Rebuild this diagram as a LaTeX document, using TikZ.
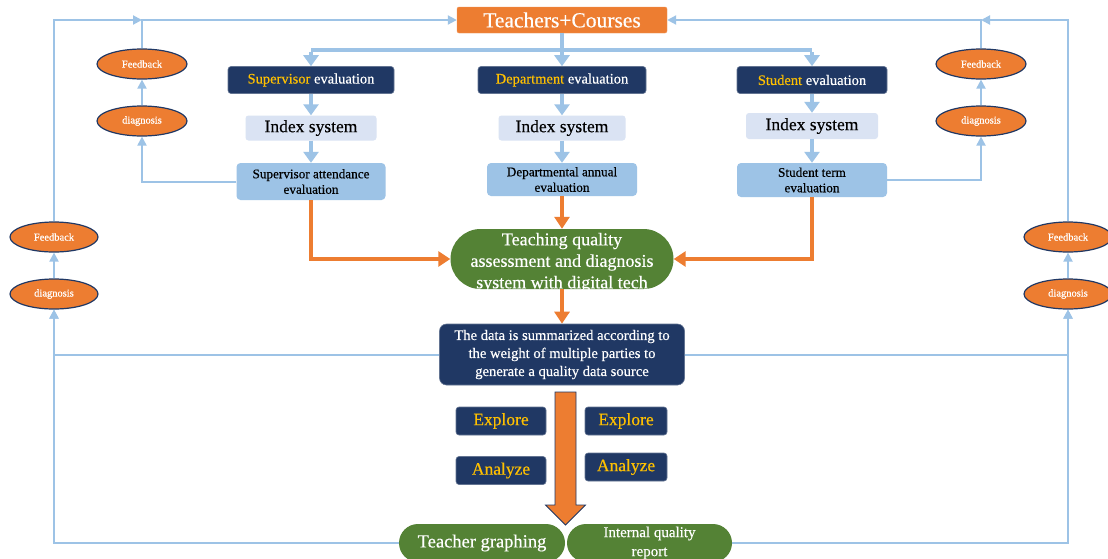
\documentclass[tikz,border=0pt]{standalone}
\usepackage{fontspec}
\setmainfont{Liberation Serif}[FakeBold=0.35]
\usetikzlibrary{arrows.meta,shapes.geometric}
\definecolor{orng}{HTML}{ED7D31}
\definecolor{navy}{HTML}{203864}
\definecolor{gold}{HTML}{FFC000}
\definecolor{lblue}{HTML}{9DC3E6}
\definecolor{lav}{HTML}{DAE3F3}
\definecolor{grn}{HTML}{548235}
\tikzset{
  fs/.style={font=\fontsize{#1}{\dimexpr#1pt*6/5\relax}\selectfont},
  orangebox/.style={rectangle, fill=orng, draw=orng!80!white, rounded corners=2pt, text=white, inner sep=0pt},
  navybox/.style={rectangle, fill=navy, draw=navy!70!white, line width=0.6pt, rounded corners=3pt, text=white, inner sep=0pt},
  indexbox/.style={rectangle, fill=lav, rounded corners=3pt, text=black, inner sep=0pt},
  evalbox/.style={rectangle, fill=lblue, rounded corners=4pt, text=black, inner sep=0pt, align=center},
  oval/.style={ellipse, fill=orng, draw=navy, line width=1.2pt, text=white, inner sep=0pt, minimum width=90pt, minimum height=30pt, font=\fontsize{10.5}{12}\selectfont},
  greenbox/.style={rectangle, fill=grn, text=white, inner sep=0pt, align=center},
  goldbox/.style={navybox, rounded corners=3pt, text=gold, minimum width=90pt, minimum height=28pt, font=\fontsize{17.5}{20}\selectfont},
  bthick/.style={draw=lblue, line width=4pt},
  barrow/.style={draw=lblue, line width=4pt, -{Triangle[length=11pt,width=15pt]}},
  bthin/.style={draw=lblue, line width=2pt, -{Triangle[length=9pt,width=9pt]}},
  oarrow/.style={draw=orng, line width=3.5pt, -{Triangle[length=12pt,width=15pt]}},
}
\begin{document}
\begin{tikzpicture}[x=1pt,y=-1pt]
\clip (0,0) rectangle (1108,558);
\fill[white] (0,0) rectangle (1108,558);

% top
\node[orangebox, minimum width=210pt, minimum height=26pt, fs=21.5] (tc) at (562,20) {Teachers+Courses};

% evaluation headers
\node[navybox, minimum width=166pt, minimum height=27pt, fs=14.5] (se) at (311,80) {\textcolor{gold}{Supervisor} evaluation};
\node[navybox, minimum width=168pt, minimum height=27pt, fs=14.5] (de) at (562,80) {\textcolor{gold}{Department} evaluation};
\node[navybox, minimum width=150pt, minimum height=27pt, fs=14.5] (ste) at (812,80) {\textcolor{gold}{Student} evaluation};

% index systems
\node[indexbox, minimum width=131pt, minimum height=25pt, fs=17.5] (si) at (311,128) {Index system};
\node[indexbox, minimum width=127pt, minimum height=25pt, fs=17.5] (di) at (562,128) {Index system};
\node[indexbox, minimum width=132pt, minimum height=26pt, fs=17.5] (sti) at (812,126) {Index system};

% evaluations
\node[evalbox, minimum width=149pt, minimum height=37pt, font=\fontsize{13.2}{15.5}\selectfont] (sa) at (311,181.5) {Supervisor attendance\\evaluation};
\node[evalbox, minimum width=150pt, minimum height=33pt, font=\fontsize{13.2}{15.5}\selectfont] (da) at (562,179.5) {Departmental annual\\evaluation};
\node[evalbox, minimum width=150pt, minimum height=34pt, font=\fontsize{13.2}{15.5}\selectfont] (st) at (812,180) {Student term\\evaluation};

% ovals
\node[oval] (lfb) at (142,64) {Feedback};
\node[oval] (ldg) at (142,121) {diagnosis};
\node[oval] (rfb) at (981,64) {Feedback};
\node[oval] (rdg) at (981,121) {diagnosis};
\node[oval, minimum width=88pt] (olfb) at (54,237) {Feedback};
\node[oval, minimum width=88pt] (oldg) at (54,294) {diagnosis};
\node[oval, minimum width=88pt] (orfb) at (1068,237) {Feedback};
\node[oval, minimum width=88pt] (ordg) at (1068,294) {diagnosis};

% central system
\node[greenbox, rounded corners=30pt, minimum width=223pt, minimum height=60pt] (tq) at (562,259) {};
\node[text=white, align=center, inner sep=0pt, font=\fontsize{18}{21.5}\selectfont] (tqtext) at (562,262.5)
  {Teaching quality\\assessment and diagnosis\\system with digital tech};

% data box
\node[navybox, rounded corners=7pt, minimum width=245pt, minimum height=61pt, align=center, font=\fontsize{14.6}{18}\selectfont] (dat) at (562,354.5)
  {The data is summarized according to\\the weight of multiple parties to\\generate a quality data source};

% explore / analyze
\node[goldbox] (ex1) at (501,421) {Explore};
\node[goldbox, minimum width=82pt] (ex2) at (626,421) {Explore};
\node[goldbox] (an1) at (501,470.5) {Analyze};
\node[goldbox, minimum width=82pt] (an2) at (626,467) {Analyze};

% bottom
\node[greenbox, rounded corners=19pt, minimum width=166pt, minimum height=38pt, fs=18.5] (tg) at (482,543) {Teacher graphing};
\node[greenbox, rounded corners=19pt, minimum width=165pt, minimum height=38pt, font=\fontsize{15}{19}\selectfont] (iq) at (649.5,543) {Internal quality\\report};

% big block arrow
\draw[fill=orng, draw=navy, line width=0.8pt, line join=miter]
  (555,392) -- (576,392) -- (576,505) -- (585.5,505) -- (565.5,525) -- (545.5,505) -- (555,505) -- cycle;

% distribution from Teachers+Courses
\coordinate (dl) at (311,50);
\coordinate (dr) at (812,50);
\draw[bthick] (dl) -- (dr);
\draw[barrow] (tc.south) -- (de.north);
\draw[barrow] ([yshift=-2pt]dl) -- (se.north);
\draw[barrow] ([yshift=-2pt]dr) -- (ste.north);

% vertical flows
\draw[barrow] (se.south) -- (si.north);
\draw[barrow] (si.south) -- (sa.north);
\draw[barrow] (de.south) -- (di.north);
\draw[barrow] (di.south) -- (da.north);
\draw[barrow] (ste.south) -- (sti.north);
\draw[barrow] (sti.south) -- (st.north);

% inner feedback loops
\coordinate (jl) at (142,20);
\coordinate (jr) at (981,20);
\draw[bthin] (sa.west) -| (ldg.south);
\draw[bthin] (ldg.north) -- (lfb.south);
\draw[bthin] (lfb.north) |- (tc.west);
\draw[bthin] (st.east) -| (rdg.south);
\draw[bthin] (rdg.north) -- (rfb.south);
\draw[bthin] (rfb.north) |- (tc.east);

% outer feedback loops
\draw[bthin] (olfb.north) |- (jl);
\draw[bthin] (orfb.north) |- (jr);
\draw[bthin] (oldg.north) -- (olfb.south);
\draw[bthin] (ordg.north) -- (orfb.south);
\draw[bthin] (dat.west) -| (oldg.south);
\draw[bthin] (tg.west) -| (oldg.south);
\draw[bthin] (dat.east) -| (ordg.south);
\draw[bthin] (iq.east) -| (ordg.south);

% orange flows
\draw[oarrow] (sa.south) |- (tq.west);
\draw[oarrow] (st.south) |- (tq.east);
\draw[oarrow] (da.south) -- (tq.north);
\draw[oarrow] (tq.south) -- (dat.north);
\end{tikzpicture}
\end{document}
